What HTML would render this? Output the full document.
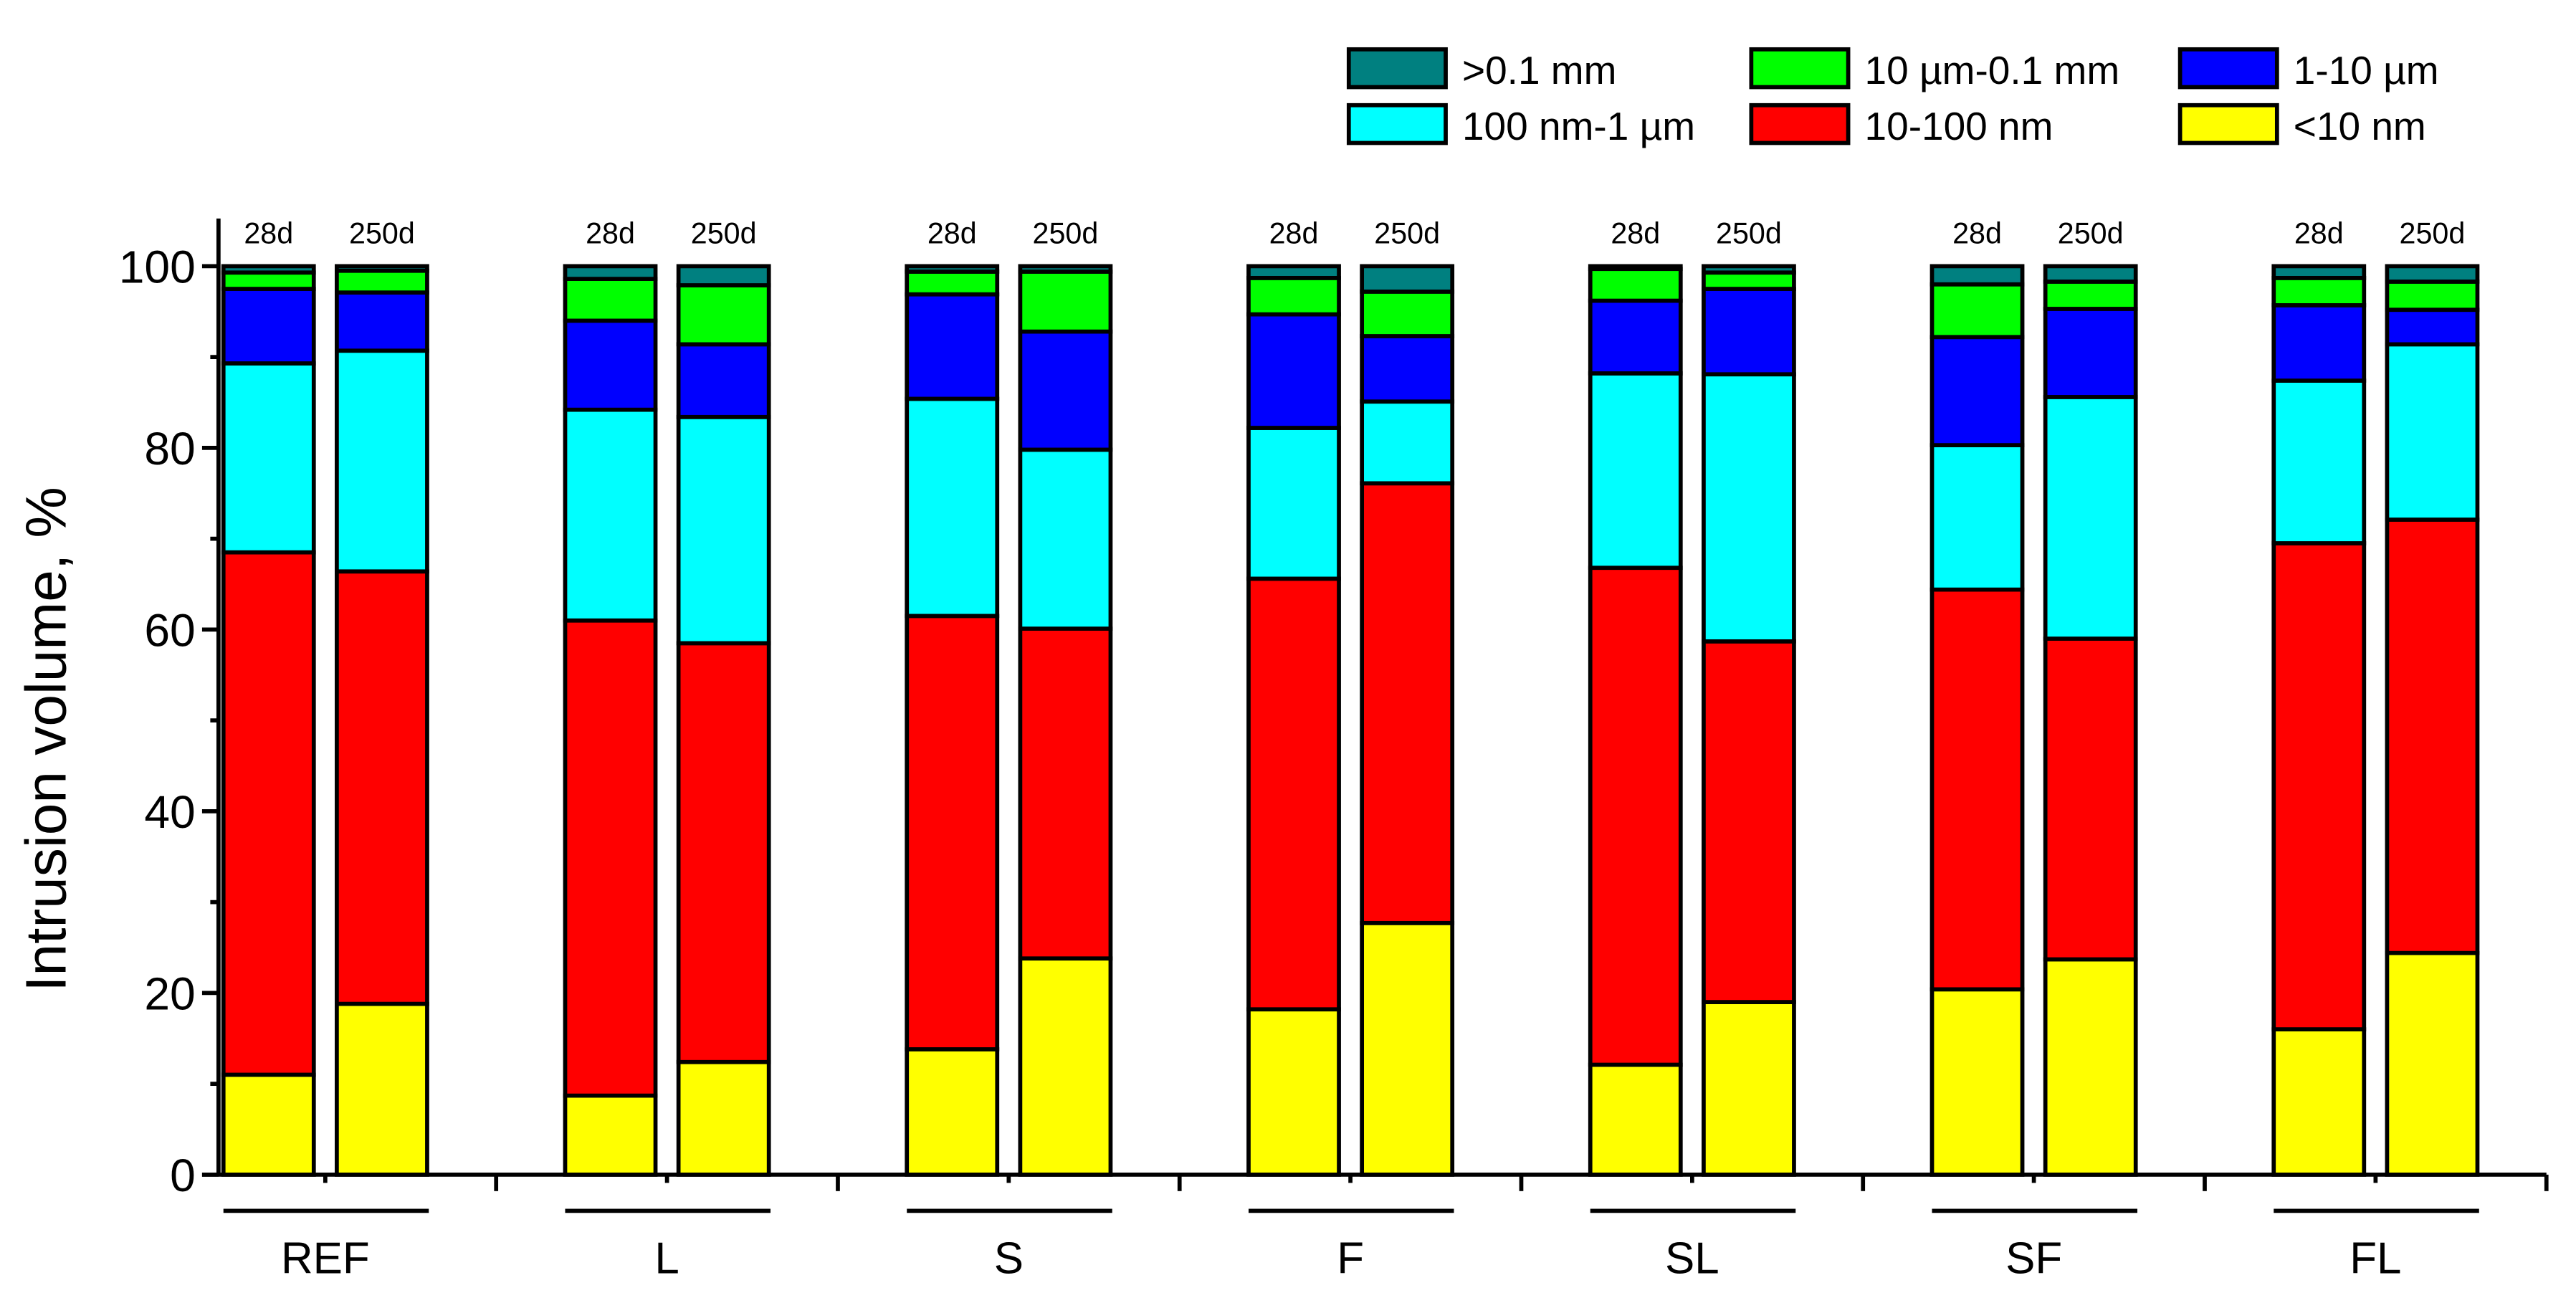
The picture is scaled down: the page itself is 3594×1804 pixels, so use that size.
<!DOCTYPE html>
<html><head><meta charset="utf-8"><style>
html,body{margin:0;padding:0;background:#fff}
svg{display:block;font-family:"Liberation Sans",sans-serif}
</style></head><body>
<svg id="chart" width="3594" height="1804" viewBox="0 0 1568 787" xmlns="http://www.w3.org/2000/svg">
<g id="legend"></g>
<g id="bars"></g>
<g id="axes"></g>
<text transform="translate(40,450) rotate(-90)" text-anchor="middle" font-size="35">Intrusion volume, %</text>
</svg>
<script>
const groups = ["REF","L","S","F","SL","SF","FL"];
const ages = ["28d","250d"];
const seriesNames = ["<10 nm","10-100 nm","100 nm-1 µm","1-10 µm","10 µm-0.1 mm",">0.1 mm"];
const seriesColors = ["#ffff00","#ff0000","#00ffff","#0000ff","#00ff00","#008080"];
const yellowVals = [11,18.8,8.7,12.4,13.8,23.8,18.2,27.7,12.1,19,20.4,23.7,16,24.4];
const redVals = [57.5,47.6,52.3,46.1,47.7,36.3,47.4,48.4,54.7,39.7,44,35.3,53.5,47.7];
const cyanVals = [20.8,24.3,23.2,24.9,23.9,19.7,16.6,9.0,21.4,29.4,15.9,26.6,17.9,19.3];
const blueVals = [8.2,6.4,9.8,8.0,11.5,13.0,12.5,7.2,8.0,9.4,11.9,9.7,8.3,3.8];
const greenVals = [1.8,2.4,4.6,6.5,2.5,6.6,4.0,4.9,3.5,1.8,5.8,3.0,3.0,3.1];
const tealVals = [0.7,0.5,1.4,2.1,0.6,0.6,1.3,2.8,0.3,0.7,2.0,1.7,1.3,1.7];
const yTicks = [0,20,40,60,80,100];

const series=[yellowVals,redVals,cyanVals,blueVals,greenVals,tealVals];
const NS="http://www.w3.org/2000/svg";
const y0=715,y100=162,axX=133,axEnd=1550,groupW=208,barW=55,SW=2.5;
function yScale(v){return y0-(y0-y100)*v/100;}
function groupLeft(g){return 136+g*groupW;}
function barX(g,a){return groupLeft(g)+a*69;}
function mk(parent,tag,attrs,txt){const e=document.createElementNS(NS,tag);for(const k in attrs)e.setAttribute(k,attrs[k]);if(txt!==undefined)e.textContent=txt;parent.appendChild(e);return e;}
const bars=document.getElementById('bars'),axes=document.getElementById('axes'),legend=document.getElementById('legend');
groups.forEach((gname,g)=>{
  ages.forEach((age,a)=>{
    const i=g*2+a;let cum=0;const x=barX(g,a);
    series.forEach((s,si)=>{
      const v=s[i];
      const r=mk(bars,'rect',{x:x,y:yScale(cum+v),width:barW,height:yScale(cum)-yScale(cum+v),fill:seriesColors[si],stroke:'#000','stroke-width':SW});
      
      
      cum+=v;
    });
    const t=mk(axes,'text',{x:x+barW/2,y:148,'text-anchor':'middle','font-size':18},age);
    
    
  });
  const gl=groupLeft(g);
  const ln=mk(axes,'line',{x1:gl,x2:gl+125,y1:737,y2:737,stroke:'#000','stroke-width':SW});
  
  
  const lb=mk(axes,'text',{x:gl+62,y:775,'text-anchor':'middle','font-size':27},gname);
  
  
  const mt=mk(axes,'line',{x1:gl+62,x2:gl+62,y1:y0,y2:y0+5,stroke:'#000','stroke-width':SW});
  
  
  const bt=mk(axes,'line',{x1:gl+166,x2:gl+166,y1:y0,y2:y0+10,stroke:'#000','stroke-width':SW});
  
  
});
const ya=mk(axes,'line',{x1:axX,x2:axX,y1:133,y2:y0+1,stroke:'#000','stroke-width':SW});


const xa=mk(axes,'line',{x1:axX-10,x2:axEnd,y1:y0,y2:y0,stroke:'#000','stroke-width':SW});


for(let v=10;v<100;v+=20){
  const m=mk(axes,'line',{x1:axX-5,x2:axX,y1:yScale(v),y2:yScale(v),stroke:'#000','stroke-width':SW});
  
  
}
yTicks.forEach(v=>{
  const t=mk(axes,'line',{x1:axX-10,x2:axX,y1:yScale(v),y2:yScale(v),stroke:'#000','stroke-width':SW});
  
  
  const l=mk(axes,'text',{x:axX-14,y:yScale(v)+10,'text-anchor':'end','font-size':28},String(v));
  
  
});
const legendOrder=[5,4,3,2,1,0];
const colX=[821,1066,1327];
legendOrder.forEach((si,k)=>{
  const col=k%3,row=Math.floor(k/3);
  const x=colX[col],y=30+row*34;
  const sw=mk(legend,'rect',{x:x,y:y,width:59,height:23,fill:seriesColors[si],stroke:'#000','stroke-width':SW});
  
  
  const tx=mk(legend,'text',{x:x+69,y:y+21,'font-size':24},seriesNames[si]);
  
  
});
</script>
</body></html>
